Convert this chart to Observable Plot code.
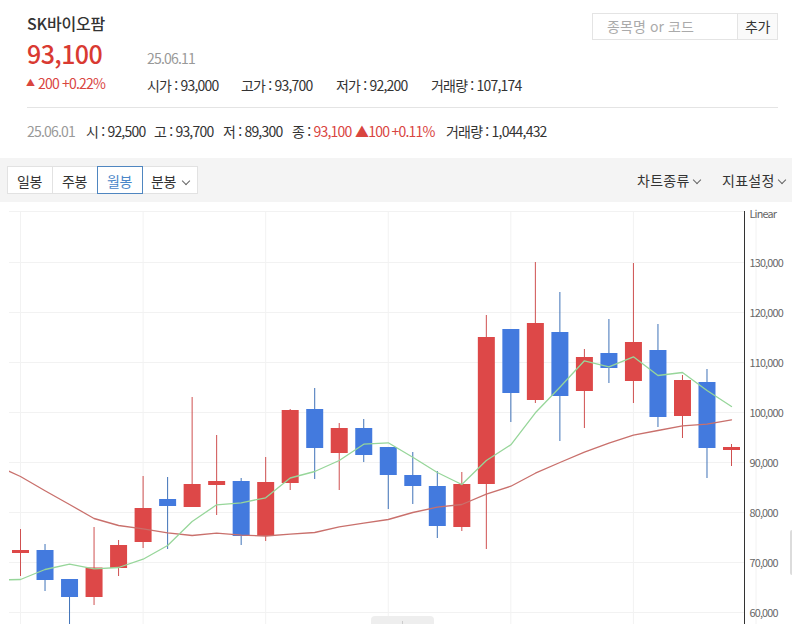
<!DOCTYPE html>
<html lang="ko">
<head>
<meta charset="utf-8">
<script src="https://cdn.jsdelivr.net/npm/d3@7"></script>
<script src="https://cdn.jsdelivr.net/npm/@observablehq/plot@0.6"></script>
<style>
html,body{margin:0;padding:0;background:#fff;overflow:hidden}
body{width:792px;height:624px;position:relative;font-family:"Noto Sans CJK KR","Noto Sans",sans-serif;color:#333;font-size:14px;letter-spacing:-.8px}
.t{position:absolute;white-space:nowrap;line-height:20px;transform:translateY(-50%)}
.box{position:absolute;box-sizing:border-box}
.chev{position:absolute;width:5px;height:5px;border-right:1px solid #666;border-bottom:1px solid #666;transform:rotate(45deg)}
.red{color:#d9453f}
#chart{position:absolute;left:0;top:210px;width:792px;height:414px}
#chart svg{display:block}
</style>
</head>
<body>
<div class="t" style="left:27px;top:23px;font-size:16px;font-weight:500;color:#333;letter-spacing:-.2px">SK바이오팜</div>
<div class="t" style="left:27px;top:53px;font-size:25px;font-weight:500;color:#d93a32;letter-spacing:-.6px">93,100</div>
<div class="t" style="left:147px;top:58px;color:#999">25.06.11</div>
<div class="t red" style="left:26px;top:83px;font-size:9px">▲</div>
<div class="t red" style="left:38px;top:83px">200 +0.22%</div>
<div class="t" style="left:147px;top:85px">시가 : 93,000</div>
<div class="t" style="left:241px;top:85px">고가 : 93,700</div>
<div class="t" style="left:336px;top:85px">저가 : 92,200</div>
<div class="t" style="left:431px;top:85px">거래량 : 107,174</div>
<div class="box" style="left:27px;top:107px;width:751px;height:1px;background:#e4e4e4"></div>
<div class="t" style="left:27px;top:131px;color:#999">25.06.01</div>
<div class="t" style="left:86px;top:131px">시 : 92,500</div>
<div class="t" style="left:154px;top:131px">고 : 93,700</div>
<div class="t" style="left:223px;top:131px">저 : 89,300</div>
<div class="t" style="left:292px;top:131px">종 : <span class="red">93,100</span></div>
<div class="t red" style="left:355px;top:131px">▲100 +0.11%</div>
<div class="t" style="left:446px;top:131px">거래량 : 1,044,432</div>

<div class="box" style="left:592px;top:13px;width:146px;height:27px;border:1px solid #e4e4e4;background:#fff"></div>
<div class="t" style="left:607px;top:26px;color:#aaa;letter-spacing:.1px">종목명 or 코드</div>
<div class="box" style="left:737px;top:13px;width:41px;height:27px;border:1px solid #e4e4e4;background:#fafafa"></div>
<div class="t" style="left:745px;top:26px;letter-spacing:-.5px">추가</div>

<div class="box" style="left:0;top:158px;width:792px;height:44px;background:#f4f4f4"></div>
<div class="box" style="left:7px;top:166px;width:46px;height:28px;border:1px solid #e2e2e2;background:#fff"></div>
<div class="box" style="left:52px;top:166px;width:46px;height:28px;border:1px solid #e2e2e2;background:#fff"></div>
<div class="box" style="left:142px;top:166px;width:56px;height:28px;border:1px solid #e2e2e2;background:#fff"></div>
<div class="box" style="left:97px;top:166px;width:46px;height:28px;border:1px solid #4f86c0;background:#fff"></div>
<div class="t" style="left:17px;top:181px;letter-spacing:-.5px">일봉</div>
<div class="t" style="left:62px;top:181px;letter-spacing:-.5px">주봉</div>
<div class="t" style="left:107px;top:181px;color:#4a86c8;letter-spacing:-.5px">월봉</div>
<div class="t" style="left:151px;top:181px;letter-spacing:-.5px">분봉</div>
<div class="chev" style="left:183px;top:178px"></div>
<div class="t" style="left:637px;top:180px;letter-spacing:.25px">차트종류</div>
<div class="chev" style="left:694px;top:177px"></div>
<div class="t" style="left:722px;top:180px;letter-spacing:.25px">지표설정</div>
<div class="chev" style="left:779px;top:177px"></div>

<div id="chart"></div>
<div class="box" style="left:371px;top:616px;width:63px;height:8px;background:#eeeeee;border-radius:4px 4px 0 0"></div>
<div class="box" style="left:402px;top:621px;width:1px;height:3px;background:#ccc"></div>
<div class="box" style="left:790px;top:530px;width:2px;height:45px;background:#dcdcdc;border-radius:2px 0 0 2px"></div>

<script>
const opens  = [71900,72500,66700,63100,68900,74100,82700,81100,85500,86300,75300,85900,100700,91900,96900,93100,87500,85300,77100,85700,116700,102500,116100,104300,111900,106300,112500,99300,106100,92500];
const closes = [72500,66500,63100,69000,73500,80900,81300,85700,86300,75300,86100,100500,92900,96900,91500,87500,85300,77300,85700,115100,103900,117900,103300,111100,108900,114100,99100,106500,92900,93100];
const highs  = [76700,73700,66700,77100,74500,87300,87100,103100,95500,86900,91100,100700,104900,97900,98700,93100,92100,88300,88100,119500,116700,130100,124100,112700,118700,129900,117700,107500,108700,93700];
const lows   = [67300,64300,57000,61500,67300,72900,72700,81100,79500,73500,74300,84500,86700,84500,90100,80700,81700,74900,76300,72700,98100,101900,94300,96900,105900,101900,97100,94900,86900,89300];
// moving averages start one period before the first visible candle
const maShort = [66560,66660,68660,69720,68800,69060,70720,73460,78260,81600,82000,83000,86960,88260,90460,93720,94000,91120,88060,85660,90460,93600,100000,105120,110400,109200,111200,107460,108060,104460,101260];
const maLong  = [89460,87260,84400,81660,78860,77460,76800,76000,75460,75920,75520,75360,75720,76060,77200,77920,78660,80060,81120,81660,83720,85320,87920,90060,92120,93920,95520,96460,97400,97720,98600];
const yTicks = [130000,120000,110000,100000,90000,80000,70000,60000];
const gridTop = 140400;
const xGrid = [0,5,10,15,20,25,30];
const xDomain = [-0.449,29.53];
const yDomain = [57600,140400];

const candles = opens.map((o,i)=>({i,o,c:closes[i],h:highs[i],l:lows[i]}));
const up = d=>d.c>=d.o;
const BODY_RED="#dd4848", BODY_BLUE="#437ade", WICK_RED="#cf5050", WICK_BLUE="#3f72b8";
const ma = arr=>arr.map((v,k)=>({i:k-1,v}));

const plot = Plot.plot({
  width:792,height:414,
  marginLeft:9,marginRight:48,marginTop:0,marginBottom:0,
  style:{background:"transparent",fontFamily:'"Noto Sans CJK KR","Noto Sans",sans-serif',overflow:"visible"},
  x:{domain:xDomain,axis:null},
  y:{domain:yDomain,axis:null},
  marks:[
    Plot.ruleY([gridTop-200,...yTicks],{stroke:"#f2f2f2",strokeWidth:1}),
    Plot.ruleX(xGrid,{y1:gridTop-200,y2:yDomain[0],stroke:"#f2f2f2",strokeWidth:1}),
    Plot.ruleX(candles,{x:"i",y1:"l",y2:"h",dy:0.5,stroke:d=>up(d)?WICK_RED:WICK_BLUE,strokeWidth:1}),
    Plot.ruleX(candles,{x:"i",y1:"o",y2:"c",dy:0.5,stroke:d=>up(d)?BODY_RED:BODY_BLUE,strokeWidth:17}),
    Plot.line(ma(maLong),{x:"i",y:"v",dy:0.3,stroke:"#c9706c",strokeWidth:1.3,clip:true}),
    Plot.line(ma(maShort),{x:"i",y:"v",dy:0.3,stroke:"#97d69a",strokeWidth:1.3,clip:true}),
    Plot.ruleX([xDomain[1]],{y1:gridTop-200,y2:yDomain[0],stroke:"#333",strokeWidth:1}),
    Plot.axisY(yTicks,{anchor:"right",tickSize:0,tickPadding:5,fontSize:10.8,fill:"#666",label:null,dy:1,tickFormat:d=>d3.format(",")(d)}),
    Plot.text(["Linear"],{frameAnchor:"top-right",dx:5,dy:0,textAnchor:"start",fontSize:10.8,fill:"#666"})
  ]
});
document.getElementById("chart").append(plot);
</script>
</body>
</html>
